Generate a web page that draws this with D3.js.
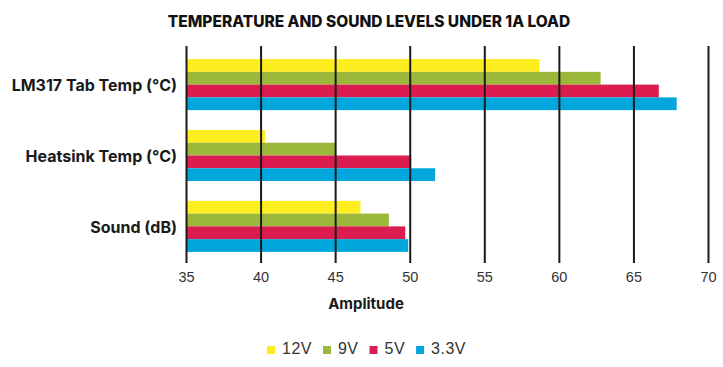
<!DOCTYPE html>
<html>
<head>
<meta charset="utf-8">
<script src="https://cdn.jsdelivr.net/npm/d3@7"></script>
<style>
  body { margin: 0; background: #fff; }
  svg { display: block; }
</style>
</head>
<body>
<div id="chart"></div>
<script>
// Data
var categories = ["LM317 Tab Temp (°C)", "Heatsink Temp (°C)", "Sound (dB)"];
var seriesNames = ["12V", "9V", "5V", "3.3V"];
var v12 = [58.7, 40.3, 46.7];
var v9 = [62.8, 45.0, 48.6];
var v5 = [66.7, 50.1, 49.7];
var v33 = [67.9, 51.7, 49.9];
var xTicks = [35, 40, 45, 50, 55, 60, 65, 70];

var colors = ["#ffee1f", "#9cb83a", "#dc1c4e", "#00a6dc"];
var seriesValues = [v12, v9, v5, v33];

const width = 723;
const height = 367;
var fontFamily = "Inter, 'Liberation Sans', sans-serif";
var plainFont = "'Liberation Sans', Arial, sans-serif";

var svg = d3.select("#chart")
  .append("svg")
  .attr("width", width)
  .attr("height", height)
  .style("background-color", "#fff");

// scales
var x = d3.scaleLinear().domain([35, 70]).range([186, 708]);

var y = d3.scaleBand()
  .domain(categories)
  .range([52, 259])
  .paddingInner(0.28)
  .paddingOuter(0.1);

var ySub = d3.scaleBand()
  .domain(seriesNames)
  .range([0, y.bandwidth()]);

// flatten rows for the bars
var rows = [];
categories.forEach(function(c, i){
  seriesNames.forEach(function(s, j){
    rows.push({cat: c, series: s, value: seriesValues[j][i], color: colors[j]});
  });
});

svg.append("g")
  .selectAll("rect")
  .data(rows)
  .enter().append("rect")
  .attr("x", x(35))
  .attr("y", function(d){ return y(d.cat) + ySub(d.series); })
  .attr("width", function(d){ return x(d.value) - x(35); })
  .attr("height", ySub.bandwidth())
  .attr("fill", function(d){ return d.color; });

// gridlines + bottom ticks, drawn over the bars
var axisY = 263;
var axis = svg.append("g")
  .attr("transform", "translate(0," + axisY + ")")
  .call(d3.axisBottom(x)
    .tickValues(xTicks)
    .tickSizeInner(-(axisY - 46))
    .tickSizeOuter(0)
    .tickFormat(d3.format("d")));

axis.select(".domain").remove();
axis.selectAll(".tick line")
  .attr("stroke", "#1a1a1a")
  .attr("stroke-width", 2);
axis.selectAll(".tick text")
  .attr("y", 19)
  .attr("dy", 0)
  .attr("fill", "#333")
  .style("font-family", plainFont)
  .style("font-size", "14.5px");

// category labels
svg.append("g")
  .selectAll("text")
  .data(categories)
  .enter().append("text")
  .attr("x", 177)
  .attr("y", function(d){ return y(d) + y.bandwidth() / 2 + 2; })
  .attr("text-anchor", "end")
  .attr("dominant-baseline", "middle")
  .attr("fill", "#1a1a1a")
  .style("font-family", fontFamily)
  .style("font-weight", 700)
  .style("font-size", "16px")
  .text(function(d){ return d; });

// title
svg.append("text")
  .attr("x", 369)
  .attr("y", 27)
  .attr("text-anchor", "middle")
  .attr("fill", "#111")
  .style("font-family", fontFamily)
  .style("font-weight", 800)
  .style("font-size", "15.5px")
  .text("TEMPERATURE AND SOUND LEVELS UNDER 1A LOAD");

// x axis title
svg.append("text")
  .attr("x", 366)
  .attr("y", 309)
  .attr("text-anchor", "middle")
  .attr("fill", "#1a1a1a")
  .style("font-family", fontFamily)
  .style("font-weight", 700)
  .style("font-size", "15px")
  .text("Amplitude");

// legend
var legend = svg.append("g");
var items = legend.selectAll("g")
  .data(seriesNames)
  .enter().append("g");

items.append("rect")
  .attr("width", 8)
  .attr("height", 8)
  .attr("y", 346)
  .attr("fill", function(d, i){ return colors[i]; });

items.append("text")
  .attr("x", 15)
  .attr("y", 354)
  .attr("fill", "#333")
  .style("font-family", plainFont)
  .style("font-size", "16px")
  .style("letter-spacing", "0.5px")
  .text(function(d){ return d; });

var gap = 11;
var pos = 0;
var offsets = [];
items.each(function(){
  var w = this.getBBox().width;
  offsets.push(pos);
  pos += w + gap;
});
var total = pos - gap;
var start = 366.5 - total / 2;
items.attr("transform", function(d, i){ return "translate(" + (start + offsets[i]) + ",0)"; });
</script>
</body>
</html>
